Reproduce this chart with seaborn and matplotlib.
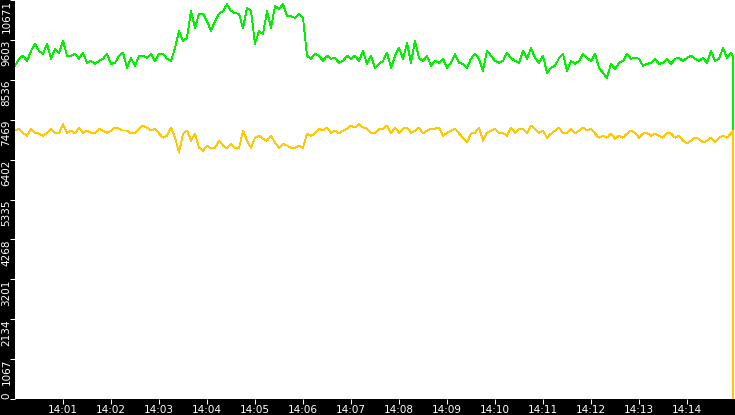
import numpy as np
import pandas as pd
import matplotlib
matplotlib.use("Agg")
import matplotlib.pyplot as plt
import seaborn as sns

# values, one sample every 5 s from 14:00:00
green = [
    8910, 9100, 9180, 9040, 9310, 9500, 9310, 9230, 9500, 9100, 9360, 9260, 9580, 9180, 9180, 9230,
    9100, 9260, 8990, 9040, 8960, 9040, 9100, 9230, 8960, 8990, 9180, 9260, 8860, 9120, 8910, 9180,
    9180, 9120, 9230, 9040, 9230, 9230, 9100, 9040, 9390, 9840, 9580, 9660, 10380, 9920, 10300, 10300,
    10110, 9840, 10110, 10300, 10380, 10560, 10380, 10320, 10300, 9920, 10460, 10380, 9500, 9840,
    9760, 10380, 9920, 10510, 10430, 10560, 10240, 10240, 10190, 10300, 10190, 9180, 9100, 9230, 9180,
    9040, 9180, 9100, 9120, 8990, 9040, 9180, 9100, 9180, 9040, 9310, 8960, 9180, 8860, 8960,
    9040, 9260, 8860, 9180, 9390, 9100, 9520, 8990, 9580, 9120, 9040, 9180, 8910, 9040, 8990,
    9100, 8860, 8990, 9230, 8990, 8960, 8860, 9100, 9230, 9100, 8780, 9310, 9180, 9040, 8990,
    9040, 9260, 9120, 9040, 8990, 9310, 9100, 9390, 9120, 8990, 9180, 8720, 8860, 8910, 9120,
    9230, 8780, 9040, 8960, 9040, 9230, 9120, 9040, 9230, 8860, 8720, 8590, 8960, 8830, 8990,
    9040, 9230, 9100, 9120, 9100, 8910, 8960, 8990, 9100, 8960, 8990, 9100, 8960, 9100, 9120,
    9040, 9120, 9180, 9100, 9040, 9120, 8990, 9310, 9040, 9100, 9390, 9120, 9260,
    9180, 3600,
]
yellow = [
    7180, 7230, 7120, 7040, 7230, 7120, 7100, 7040, 7120, 7230, 7120, 7100, 7360, 7120, 7180, 7100,
    7260, 7120, 7180, 7120, 7100, 7230, 7180, 7120, 7180, 7260, 7230, 7180, 7180, 7100, 7120, 7230,
    7310, 7260, 7180, 7230, 7100, 6990, 7040, 7260, 6990, 6590, 7100, 7180, 6910, 7100, 6720,
    6640, 6780, 6700, 6720, 6910, 6780, 6700, 6830, 6720, 6700, 7180, 6910, 6720, 6990, 7040,
    6960, 6910, 7040, 6860, 6720, 6830, 6780, 6720, 6720, 6780, 6720, 7100, 7040, 7100, 7230,
    7180, 7260, 7120, 7180, 7100, 7180, 7230, 7310, 7260, 7360, 7260, 7230, 7120, 7100, 7230,
    7230, 7310, 7100, 7260, 7120, 7230, 7260, 7120, 7180, 7260, 7100, 7180, 7230, 7230, 7260,
    7040, 7120, 7180, 7230, 7100, 6990, 6860, 7100, 7120, 7260, 6910, 7120, 7180, 7230, 7120,
    7120, 7040, 7260, 7120, 7230, 7230, 7100, 7310, 7230, 7120, 7180, 6990, 7100, 7180, 7260,
    7100, 7120, 7230, 7100, 7180, 7260, 7180, 7230, 7100, 6990, 7040, 6990, 7100, 6960, 7040,
    6990, 7100, 7180, 7120, 6990, 7100, 7120, 7040, 7100, 7040, 6990, 7120, 7100, 6990, 7040,
    6910, 6830, 6910, 6990, 6960, 6860, 6910, 6990, 6860, 6990, 7040, 6990, 7100,
    7180, 0,
]
y_ticks = [0, 1067, 2134, 3201, 4268, 5335, 6402, 7469, 8536, 9603, 10671]
x_labels = ["14:01", "14:02", "14:03", "14:04", "14:05", "14:06", "14:07",
            "14:08", "14:09", "14:10", "14:11", "14:12", "14:13", "14:14"]

start = pd.Timestamp("2024-01-01 14:00:00")
n = len(green) - 2
times = (list(start + pd.to_timedelta(np.arange(n) * 5, unit="s"))
         + [start + pd.Timedelta(seconds=897.5), start + pd.Timedelta(seconds=898)])

df = pd.DataFrame({
    "time": times + times,
    "value": green + yellow,
    "series": ["green"] * len(green) + ["yellow"] * len(yellow),
})

sns.set_theme(style="white")
plt.rcParams["font.family"] = ["DejaVu Sans"]
plt.rcParams["lines.antialiased"] = False

fig = plt.figure(figsize=(7.35, 4.15), dpi=100, facecolor="black")
ax = fig.add_axes([15 / 735, 16 / 415, 720 / 735, 399 / 415])
ax.set_facecolor("white")

sns.lineplot(data=df, x="time", y="value", hue="series",
             palette={"green": "#00f000", "yellow": "#ffc800"},
             estimator=None, sort=False, linewidth=0.6, antialiased=False,
             legend=False, ax=ax)

ax.set_xlim(start, start + pd.Timedelta(minutes=15))
ax.set_ylim(0, 10671)
ax.set_xticks([start + pd.Timedelta(minutes=m + 1) for m in range(len(x_labels))])
ax.set_xticklabels(x_labels)
ax.set_yticks(y_ticks)
ax.set_yticklabels([str(v) for v in y_ticks])
ax.set_xlabel("")
ax.set_ylabel("")
for s in ax.spines.values():
    s.set_visible(False)

ax.tick_params(axis="x", colors="white", labelcolor="white", length=3.6, width=0.75,
               pad=1, labelsize=7.5, bottom=True, direction="out")
ax.tick_params(axis="y", colors="white", labelcolor="white", length=3.6, width=0.75,
               pad=2.5, labelsize=7.5, left=True, direction="out")

for lab in ax.get_yticklabels():
    lab.set_rotation(90)
    lab.set_rotation_mode("anchor")
    lab.set_va("center")
    lab.set_ha("left" if lab.get_text() == "0" else "right")

fig.savefig("out.png", dpi=100, facecolor=fig.get_facecolor())
